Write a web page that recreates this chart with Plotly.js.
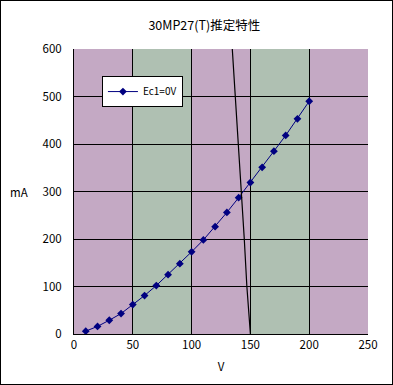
<!DOCTYPE html>
<html><head><meta charset="utf-8">
<script src="https://cdn.plot.ly/plotly-3.0.1.min.js"></script>
<style>
html,body{margin:0;padding:0;background:#fff;}
#chart{width:393px;height:385px;box-sizing:border-box;border:1px solid #000;}
</style></head>
<body><div id="chart"></div>
<script>
// Ec1=0V plate characteristic
const plateV = [10,20,30,40,50,60,70,80,90,100,110,120,130,140,150,160,170,180,190,200];
const plateI = [6,16,29,43,62,81,102,125,148,173,198,226,256,287,319,351,385,418,453,490];
// load line
const loadV = [150.3,150,147,144.8,142.3,139.7,137,134.6,133.5];
const loadI = [-10,0,100,200,300,400,500,600,620];
const xTicks = [0,50,100,150,200,250];
const yTicks = [0,100,200,300,400,500,600];
const seriesName = 'Ec1=0V';
const titleText = '30MP27(T)推定特性';

const FONT = '"Noto Sans CJK JP", "Noto Sans", sans-serif';
const pink = '#c4a9c4', green = '#afc0b2';
const shapes = [];
for (let i = 0; i < xTicks.length - 1; i++) {
  shapes.push({type:'rect', xref:'x', yref:'y', x0:xTicks[i], x1:xTicks[i+1], y0:0, y1:600,
    fillcolor: i % 2 === 0 ? pink : green, line:{width:0}, layer:'below'});
}

const data = [
  {x: plateV, y: plateI, name: seriesName, type:'scatter', mode:'lines+markers',
   line:{color:'#000080', width:1}, marker:{symbol:'diamond', size:6, color:'#000080'}},
  {x: loadV, y: loadI, type:'scatter', mode:'lines', showlegend:false,
   line:{color:'#000000', width:1.2}, hoverinfo:'skip'}
];

const layout = {
  width: 391, height: 383,
  margin: {l:73, r:24, t:48, b:50},
  paper_bgcolor:'#ffffff', plot_bgcolor:'rgba(0,0,0,0)',
  font:{family:FONT, size:11.5, color:'#000'},
  title:{text:titleText, x:0.52, xanchor:'center', y:0.937, yanchor:'middle', font:{family:FONT, size:12.5}},
  shapes: shapes,
  xaxis:{range:[0,250], tickvals:xTicks, ticktext:xTicks.map(String), showgrid:true, gridcolor:'#000', gridwidth:1,
    zeroline:false, showline:true, linecolor:'#000', linewidth:1, ticks:'', ticklen:0,
    title:{text:'V', font:{family:FONT, size:11.5}, standoff:12}, mirror:false},
  yaxis:{range:[0,600], tickvals:yTicks, ticktext:yTicks.map(String), showgrid:true, gridcolor:'#000', gridwidth:1,
    zeroline:false, showline:true, linecolor:'#000', linewidth:1, ticks:'', ticklen:0, ticklabelstandoff:9},
  annotations:[{text:'mA', xref:'paper', yref:'paper', x:-0.187, y:0.5, xanchor:'center', yanchor:'middle',
    showarrow:false, font:{family:FONT, size:11.5}}],
  legend:{x:0.095, y:0.905, xanchor:'left', yanchor:'top', bgcolor:'#fff', bordercolor:'#000', borderwidth:1,
    font:{family:FONT, size:10}, itemwidth:30, tracegroupgap:0},
  showlegend:true
};
Plotly.newPlot('chart', data, layout, {displayModeBar:false, staticPlot:true});
</script></body></html>
